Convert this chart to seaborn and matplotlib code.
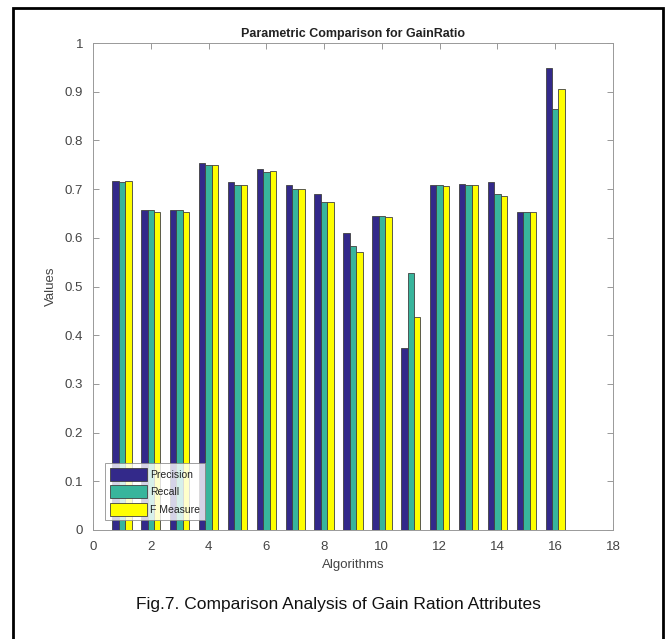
import numpy as np
import pandas as pd
import matplotlib
matplotlib.use("Agg")
import matplotlib.pyplot as plt
import seaborn as sns
from matplotlib.patches import Rectangle
from matplotlib.ticker import FuncFormatter

# values
algorithms = list(range(1, 17))
precision = [0.716, 0.658, 0.658, 0.753, 0.715, 0.741, 0.709, 0.689,
             0.610, 0.645, 0.374, 0.708, 0.710, 0.715, 0.652, 0.949]
recall = [0.714, 0.658, 0.658, 0.749, 0.708, 0.736, 0.700, 0.674,
          0.583, 0.645, 0.528, 0.708, 0.708, 0.689, 0.653, 0.864]
f_measure = [0.716, 0.653, 0.653, 0.749, 0.708, 0.737, 0.700, 0.674,
             0.571, 0.643, 0.437, 0.706, 0.708, 0.686, 0.652, 0.905]
series_names = ["Precision", "Recall", "F Measure"]
colors = ["#33298a", "#38b59c", "#ffff00"]

df = pd.DataFrame({
    "Algorithm": algorithms * 3,
    "Value": precision + recall + f_measure,
    "Metric": np.repeat(series_names, len(algorithms)),
})

sns.set_theme(style="white")
plt.rcParams["font.family"] = ["Liberation Sans", "DejaVu Sans"]

fig = plt.figure(figsize=(6.72, 6.39), dpi=100)
ax = fig.add_axes([93 / 672, 109 / 639, 520 / 672, 487 / 639])

sns.barplot(data=df, x="Algorithm", y="Value", hue="Metric", hue_order=series_names,
            palette=colors, native_scale=True, width=0.667, gap=0,
            edgecolor="#404040", linewidth=0.6, saturation=1, errorbar=None, ax=ax)

ax.set_xlim(0, 18)
ax.set_ylim(0, 1)
ax.set_xticks(range(0, 19, 2))
ax.set_yticks(np.arange(0, 1.01, 0.1))
ax.yaxis.set_major_formatter(FuncFormatter(lambda v, p: f"{v:g}"))
ax.tick_params(direction="in", length=4, width=0.6, colors="#888888",
               labelcolor="#444444", labelsize=9.5, top=True, right=True,
               bottom=True, left=True)
ax.tick_params(axis="x", pad=8)
ax.tick_params(axis="y", pad=7)
for s in ax.spines.values():
    s.set_color("#999999")
    s.set_linewidth(0.7)

ax.set_title("Parametric Comparison for GainRatio", fontsize=9, fontweight="bold",
             color="#222222", pad=4)
ax.set_xlabel("Algorithms", fontsize=9.5, color="#444444", labelpad=4)
ax.set_ylabel("Values", fontsize=9.5, color="#444444", labelpad=6)

leg = ax.legend(loc="lower left", bbox_to_anchor=(0.023, 0.02), fontsize=7.5,
                frameon=True, fancybox=False, handlelength=3.6, handleheight=1.5,
                handletextpad=0.3, borderpad=0.45, labelspacing=0.45,
                borderaxespad=0)
leg.get_frame().set_edgecolor("#888888")
leg.get_frame().set_linewidth(0.7)
for t in leg.get_texts():
    t.set_color("#222222")

fig.patches.append(Rectangle((13 / 672, -0.05), 650 / 672, 0.05 + 631 / 639,
                             transform=fig.transFigure, fill=False,
                             edgecolor="black", linewidth=2))
fig.text(338 / 672, 34 / 639, "Fig.7. Comparison Analysis of Gain Ration Attributes",
         ha="center", va="center", fontsize=12.5, color="#111111")

fig.savefig("out.png", dpi=100)
